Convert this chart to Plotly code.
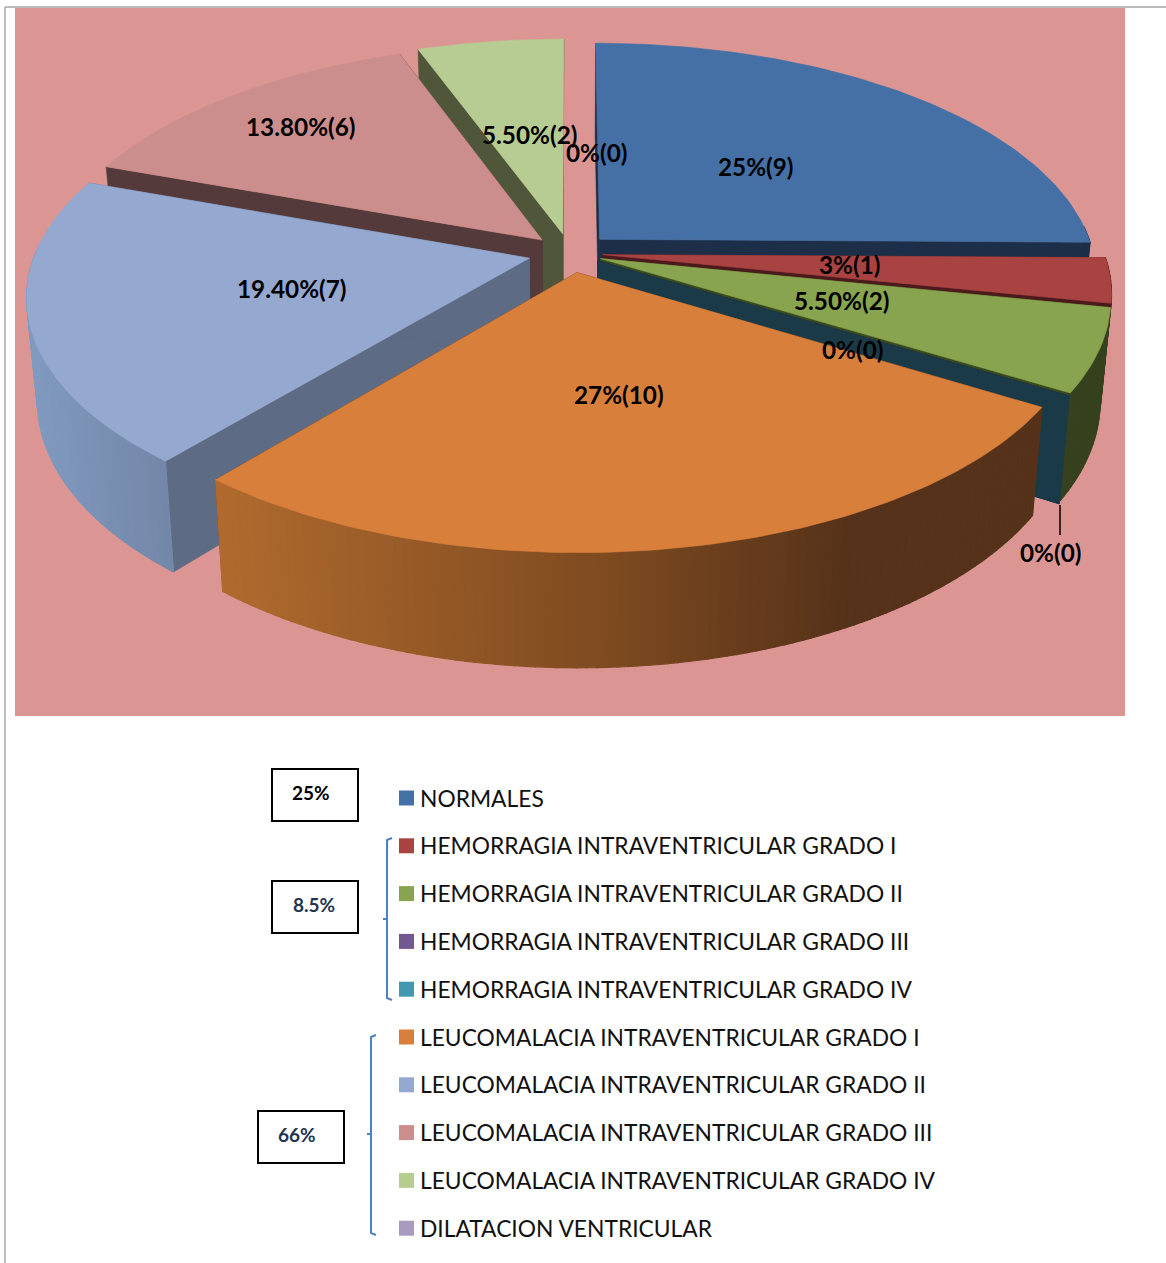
import math
import plotly.graph_objects as go

# Diagnostic groups and their share of the patients
categories = [
    "NORMALES",
    "HEMORRAGIA INTRAVENTRICULAR GRADO I",
    "HEMORRAGIA INTRAVENTRICULAR GRADO II",
    "HEMORRAGIA INTRAVENTRICULAR GRADO III",
    "HEMORRAGIA INTRAVENTRICULAR GRADO IV",
    "LEUCOMALACIA INTRAVENTRICULAR GRADO I",
    "LEUCOMALACIA INTRAVENTRICULAR GRADO II",
    "LEUCOMALACIA INTRAVENTRICULAR GRADO III",
    "LEUCOMALACIA INTRAVENTRICULAR GRADO IV",
    "DILATACION VENTRICULAR",
]
percentages = [25, 3, 5.5, 0, 0, 27, 19.4, 13.8, 5.5, 0]
counts = [9, 1, 2, 0, 0, 10, 7, 6, 2, 0]
group_totals = ["25%", "8.5%", "66%"]

# Slice styling, index for index with the categories
top_colors = ["#4570A6", "#A94341", "#88A44E", "#71588F", "#4198AF",
              "#D97F3C", "#95A8CF", "#CC8E8C", "#B7CC92", "#A99BBD"]
face_colors = ["#1D2E48", "#4A1A1C", "#3A4A1E", "#2C2440", "#1B3A47",
               "#56321A", "#5D6B85", "#543A3A", "#4F5639", "#453F50"]
wall_stops = [
    [(0, "#1D2E48")],
    [(0, "#4A1A1C")],
    [(0, "#36421F")],
    [(0, "#2C2440")],
    [(0, "#1B3A47")],
    [(220, "#B06A2E"), (600, "#7F4B20"), (850, "#56321A")],
    [(30, "#809ABF"), (175, "#7285A6")],
    [(0, "#7F5554")],
    [(0, "#6E7F52")],
    [(0, "#453F50")],
]
explode = [0.085, 0.066, 0.066, 0.066, 0.068, 0.085, 0.085, 0.08, 0.085, 0.085]
radius = [1.0, 1.015, 1.015, 1.015, 1.015, 1.0, 1.0, 1.0, 1.0, 1.0]
paint_order = [8, 7, 0, 6, 1, 2, 3, 4, 5]

# Perspective model of the tilted disc, in page pixels
CX, CY = 570, 253
RX, RY = 494, 230.3
PERSP = 0.154
DEPTH, SHRINK = 103, 0.98


def project(px, py, lower=False):
    s = 1 / (1 + PERSP * py)
    if lower:
        return CX + RX * px * s * SHRINK, CY + (-RY * py + DEPTH) * s * SHRINK
    return CX + RX * px * s, CY - RY * py * s


def hex_rgb(c):
    return [int(c[i:i + 2], 16) for i in (1, 3, 5)]


def ramp(stops, x):
    if x <= stops[0][0]:
        return stops[0][1]
    for (x0, c0), (x1, c1) in zip(stops, stops[1:]):
        if x <= x1:
            t = (x - x0) / (x1 - x0)
            a, b = hex_rgb(c0), hex_rgb(c1)
            return "rgb({},{},{})".format(*[round(u + (v - u) * t) for u, v in zip(a, b)])
    return stops[-1][1]


def polygon(points, color, edge=0.6):
    xs = [p[0] for p in points] + [points[0][0]]
    ys = [p[1] for p in points] + [points[0][1]]
    return go.Scatter(x=xs, y=ys, mode="lines", fill="toself", fillcolor=color,
                      line=dict(color=color, width=edge), hoverinfo="skip",
                      showlegend=False)


fig = go.Figure()

# Slice angles, clockwise from twelve o'clock
total = sum(percentages)
edges = [0]
for v in percentages:
    edges.append(edges[-1] + v / total * 2 * math.pi)

for i in paint_order:
    a0, a1 = edges[i], edges[i + 1]
    mid = (a0 + a1) / 2
    ox, oy = explode[i] * math.sin(mid), explode[i] * math.cos(mid)
    r = radius[i]
    steps = max(2, int((a1 - a0) / math.radians(1)))
    angles = [a0 + (a1 - a0) * k / steps for k in range(steps + 1)]
    rim = [(ox + r * math.sin(a), oy + r * math.cos(a)) for a in angles]

    # radial cut faces
    for end in (rim[0], rim[-1]):
        fig.add_trace(polygon([project(ox, oy), project(*end),
                               project(*end, lower=True), project(ox, oy, lower=True)],
                              face_colors[i]))
    if percentages[i] > 0:
        # outer wall, shaded strip by strip; the far side of the disc stays hidden
        for k, (p, q) in enumerate(zip(rim, rim[1:])):
            if math.cos((angles[k] + angles[k + 1]) / 2) > 0.05:
                continue
            xm = (project(*p)[0] + project(*q)[0]) / 2
            fig.add_trace(polygon([project(*p), project(*q),
                                   project(*q, lower=True), project(*p, lower=True)],
                                  ramp(wall_stops[i], xm), edge=1.2))
        # top surface
        fig.add_trace(polygon([project(ox, oy)] + [project(*p) for p in rim], top_colors[i]))

# Swatches for the key, one row per category
ROW0, ROW_STEP = 798, 47.8
fig.add_trace(go.Scatter(
    x=[406.5] * len(categories),
    y=[ROW0 + ROW_STEP * i for i in range(len(categories))],
    mode="markers",
    marker=dict(symbol="square", size=15, color=top_colors, line=dict(width=0)),
    hoverinfo="skip", showlegend=False))


def pct_text(v, n):
    body = f"{v:.0f}" if float(v).is_integer() else f"{v:.2f}"
    return f"{body}%({n})"


annotations = []
for i, name in enumerate(categories):
    annotations.append(dict(x=418, y=ROW0 + ROW_STEP * i - 0.5, text=name, xanchor="left", yanchor="middle",
                            showarrow=False, font=dict(family="Lato", size=22.8, color="#111111")))

# Value labels placed beside their slices
label_spots = [(756, 166), (849, 264), (841, 300), (852, 349), (1050, 552),
               (619, 394), (291, 288), (300, 126), (529, 134), (596, 152)]
for v, n, (lx, ly) in zip(percentages, counts, label_spots):
    annotations.append(dict(x=lx, y=ly, text=pct_text(v, n), xanchor="center", yanchor="middle",
                            showarrow=False, font=dict(family="Lato", size=24.3, color="#000000", weight="bold")))

# Summary boxes with their brackets
boxes = [(272, 769, 358, 821), (272, 881, 358, 933), (258, 1111, 344, 1163)]
box_text_spots = [(311, 792, "#000000"), (314, 904, "#1F3552"), (297, 1134, "#1F3552")]
for text, (tx, ty, tc) in zip(group_totals, box_text_spots):
    annotations.append(dict(x=tx, y=ty, text=text, xanchor="center", yanchor="middle", showarrow=False,
                            font=dict(family="Lato", size=19, color=tc, weight="bold")))

shapes = [
    dict(type="rect", x0=15, y0=8, x1=1125, y1=716, fillcolor="#DB9694", line_width=0, layer="below"),
    dict(type="line", x0=5, y0=7, x1=1166, y1=7, line=dict(color="#A6A6A6", width=1.5), layer="below"),
    dict(type="line", x0=5, y0=7, x1=5, y1=1263, line=dict(color="#A6A6A6", width=1.5), layer="below"),
    dict(type="line", x0=1060, y0=505, x1=1060, y1=535, line=dict(color="#000000", width=1.5)),
]
for x0, y0, x1, y1 in boxes:
    shapes.append(dict(type="rect", x0=x0, y0=y0, x1=x1, y1=y1, line=dict(color="#000000", width=2)))
for bx, top, bottom, tick in [(387, 838, 1000, 919), (371, 1035, 1235, 1134)]:
    path = f"M {bx + 5} {top} L {bx} {top + 2} L {bx} {bottom - 2} L {bx + 5} {bottom} M {bx - 4} {tick} L {bx} {tick}"
    shapes.append(dict(type="path", path=path, line=dict(color="#4F81BD", width=2)))

fig.update_layout(
    width=1166, height=1263,
    margin=dict(l=0, r=0, t=0, b=0),
    paper_bgcolor="#FFFFFF", plot_bgcolor="#FFFFFF",
    xaxis=dict(range=[0, 1166], visible=False, fixedrange=True),
    yaxis=dict(range=[1263, 0], visible=False, fixedrange=True),
    shapes=shapes, annotations=annotations, showlegend=False,
)

fig.write_html("out.html", config={"displayModeBar": False})
